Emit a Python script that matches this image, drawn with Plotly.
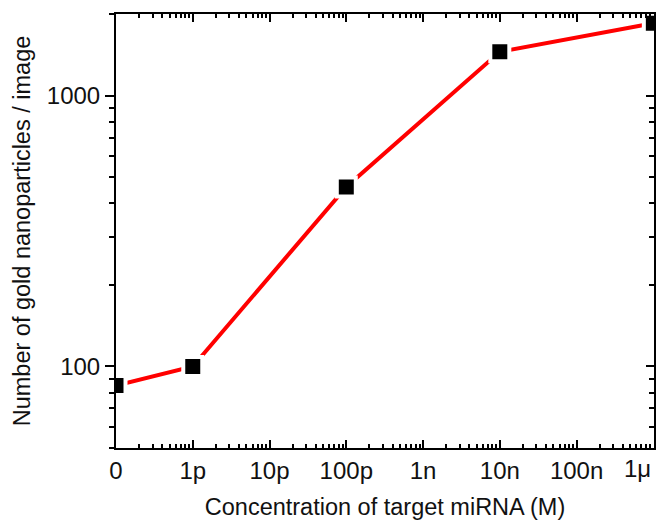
import numpy as np
import plotly.graph_objects as go

# Target miRNA concentration (M); the "0" sample is placed at 0.1 pM on the log axis
conc = [1e-13, 1e-12, 1e-10, 1e-8, 1e-6]
counts = [85, 100, 460, 1450, 1850]

x_tickvals = [1e-13, 1e-12, 1e-11, 1e-10, 1e-9, 1e-8, 1e-7, 1e-6]
x_ticktext = ["0", "1p", "10p", "100p", "1n", "10n", "100n", "1\u03bc"]
y_tickvals = [100, 1000]
y_ticktext = ["100", "1000"]

x_minor = [m * 10.0 ** e for e in range(-13, -6) for m in range(2, 10)]
y_minor = [m * 10.0 ** e for e in range(1, 4) for m in range(2, 10)]
y_minor = [v for v in y_minor if 50 <= v <= 2000 and v not in (100, 1000)]

font = "Liberation Sans, Arial, sans-serif"
txt = "#111111"
tick_size = 24
title_size = 23.5

fig = go.Figure()
fig.add_trace(go.Scatter(
    x=conc, y=counts, mode="lines+markers",
    line=dict(color="#ff0000", width=4),
    marker=dict(symbol="square", size=19, color="black",
                line=dict(color="white", width=4)),
    showlegend=False,
))
# empty trace carrying the right-hand mirror axis
fig.add_trace(go.Scatter(x=[conc[0]], y=[counts[0]], yaxis="y2",
                         mode="markers", marker=dict(opacity=0),
                         showlegend=False, hoverinfo="skip"))

ylo, yhi = np.log10(50), np.log10(2000)

# the last tick label sits right-aligned to its tick so it stays inside the page
shown_text = x_ticktext[:-1] + [""]
fig.add_annotation(
    x=np.log10(x_tickvals[-1]), xref="x", xanchor="right",
    y=0, yref="paper", yanchor="top", yshift=-5,
    text=x_ticktext[-1], showarrow=False,
    font=dict(family=font, size=tick_size, color=txt),
)

fig.update_layout(
    width=659, height=520,
    margin=dict(l=116, r=5, t=14, b=72),
    plot_bgcolor="white", paper_bgcolor="white",
    font=dict(family=font, size=tick_size, color=txt),
    xaxis=dict(
        type="log", range=[-13, np.log10(1.02e-6)],
        tickvals=x_tickvals, ticktext=shown_text,
        automargin=False,
        ticks="inside", ticklen=8, tickwidth=2, tickcolor="black",
        minor=dict(tickvals=x_minor, ticks="inside", ticklen=4,
                   tickwidth=1.5, tickcolor="black", showgrid=False),
        showline=True, linecolor="black", linewidth=2, mirror="ticks",
        showgrid=False, zeroline=False,
        tickfont=dict(size=tick_size),
        title=dict(text="Concentration of target miRNA (M)",
                   font=dict(size=title_size), standoff=17),
    ),
    yaxis=dict(
        type="log", range=[ylo, yhi], automargin=False,
        tickvals=y_tickvals, ticktext=y_ticktext,
        ticks="outside", ticklen=9, tickwidth=2, tickcolor="black",
        minor=dict(tickvals=y_minor, ticks="outside", ticklen=5,
                   tickwidth=1.5, tickcolor="black", showgrid=False),
        showline=True, linecolor="black", linewidth=2,
        showgrid=False, zeroline=False,
        tickfont=dict(size=tick_size),
        title=dict(text="Number of gold nanoparticles / image",
                   font=dict(size=title_size), standoff=10),
    ),
    yaxis2=dict(
        type="log", range=[ylo, yhi], overlaying="y", side="right",
        tickvals=y_tickvals, showticklabels=False, automargin=False,
        ticks="inside", ticklen=8, tickwidth=2, tickcolor="black",
        minor=dict(tickvals=y_minor, ticks="inside", ticklen=5,
                   tickwidth=1.5, tickcolor="black", showgrid=False),
        showline=True, linecolor="black", linewidth=2,
        showgrid=False, zeroline=False,
    ),
)

fig.write_html("out.html")
